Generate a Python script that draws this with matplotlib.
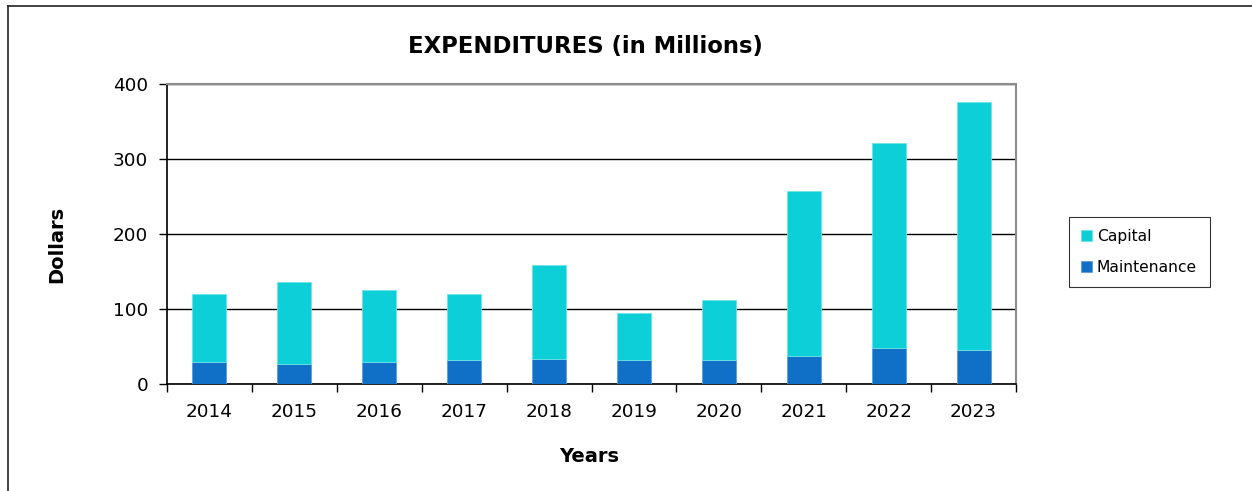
import matplotlib
matplotlib.use("Agg")
import matplotlib.pyplot as plt
from matplotlib.lines import Line2D
import numpy as np

years = ["2014", "2015", "2016", "2017", "2018", "2019", "2020", "2021", "2022", "2023"]
maintenance = [29, 27, 30, 32, 33, 32, 32.5, 37.5, 48.5, 46]
capital = [91, 109, 95.5, 88, 126, 62.5, 79.5, 219.5, 272.5, 329.5]
y_ticks = [0, 100, 200, 300, 400]

plt.rcParams["font.family"] = ["DejaVu Sans"]

W, H = 1252, 491
fig = plt.figure(figsize=(W / 100, H / 100), dpi=100)

# Open frame around the chart: left and top edges only
fig.lines.append(Line2D([7.5 / W, 7.5 / W], [0, 1 - 6 / H], transform=fig.transFigure,
                        color="#222222", linewidth=1.2))
fig.lines.append(Line2D([7.5 / W, 1], [1 - 6 / H, 1 - 6 / H], transform=fig.transFigure,
                        color="#222222", linewidth=1.2))

ax = fig.add_axes([167 / W, 107 / H, 849 / W, 300 / H])
x = np.arange(len(years))
ax.bar(x, maintenance, width=0.4, color="#106FC6", edgecolor="#5E9EDC", linewidth=0.6,
       label="Maintenance", zorder=3)
ax.bar(x, capital, width=0.4, bottom=maintenance, color="#0DCFD8", edgecolor="#6FE3E8",
       linewidth=0.6, label="Capital", zorder=3)

ax.set_xlim(-0.5, len(years) - 0.5)
ax.set_ylim(0, 400)
ax.set_yticks(y_ticks)
ax.yaxis.grid(True, color="black", linewidth=1.0, zorder=0)
ax.set_axisbelow(True)

ax.set_xticks(np.arange(-0.5, len(years), 1.0))
ax.set_xticklabels([])
ax.set_xticks(x, minor=True)
ax.set_xticklabels(years, minor=True)
ax.tick_params(axis="x", which="major", length=6, width=1, direction="out")
ax.tick_params(axis="x", which="minor", length=0, labelsize=13.2, pad=14)
ax.tick_params(axis="y", length=6, width=1, direction="out", labelsize=13.2, pad=7.5)

for side in ("top", "right"):
    ax.spines[side].set_color("#8C8C8C")
    ax.spines[side].set_linewidth(1.5)
for side in ("left", "bottom"):
    ax.spines[side].set_color("black")
    ax.spines[side].set_linewidth(1.2)

fig.text(589 / W, 1 - 457 / H, "Years", fontsize=14, fontweight="bold",
         ha="center", va="center")
fig.text(57 / W, 1 - 244 / H, "Dollars", fontsize=14, fontweight="bold",
         ha="center", va="center", rotation=90)
fig.text(585 / W, 1 - 47 / H, "EXPENDITURES (in Millions)", fontsize=16.4,
         fontweight="bold", ha="center", va="center")

handles, labels = ax.get_legend_handles_labels()
leg = fig.legend(handles[::-1], labels[::-1], loc="center left",
                 bbox_to_anchor=(1069 / W, 1 - 252 / H), fontsize=11.2,
                 frameon=True, fancybox=False, edgecolor="black", handlelength=0.7,
                 handleheight=0.7, handletextpad=0.3, labelspacing=1.0,
                 borderpad=0.8, borderaxespad=0)
leg.get_frame().set_linewidth(0.8)

fig.savefig("out.png", dpi=100)
